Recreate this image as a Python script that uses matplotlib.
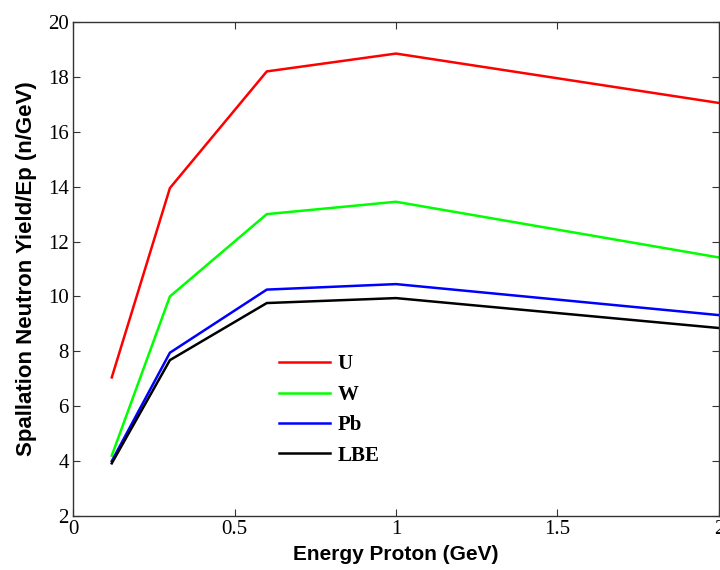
import matplotlib
matplotlib.use('Agg')
import matplotlib.pyplot as plt

# Data
energy = [0.12, 0.3, 0.6, 1.0, 2.0]
yield_u = [7.05, 13.95, 18.2, 18.85, 17.05]
yield_w = [4.2, 10.0, 13.0, 13.45, 11.42]
yield_pb = [4.0, 7.95, 10.25, 10.45, 9.32]
yield_lbe = [3.92, 7.68, 9.76, 9.94, 8.85]

series = [
    ('U', yield_u, '#ff0000'),
    ('W', yield_w, '#00ff00'),
    ('Pb', yield_pb, '#0000ff'),
    ('LBE', yield_lbe, '#000000'),
]

xticks = [0, 0.5, 1, 1.5, 2]
yticks = [2, 4, 6, 8, 10, 12, 14, 16, 18, 20]

fig = plt.figure(figsize=(7.2, 5.7), dpi=100)
ax = fig.add_axes([0.1014, 0.0947, 0.8972, 0.8667])

for label, vals, color in series:
    ax.plot(energy, vals, color=color, linewidth=1.8, label=label)

ax.set_xlim(0, 2)
ax.set_ylim(2, 20)
ax.set_xticks(xticks)
ax.set_xticklabels(['0', '0.5', '1', '1.5', '2'])
ax.set_yticks(yticks)

serif = ['Liberation Serif', 'DejaVu Serif']
for lab in ax.get_xticklabels() + ax.get_yticklabels():
    lab.set_family(serif)
    lab.set_fontsize(15)

ax.tick_params(direction='in', top=True, right=True, length=5, width=0.8,
               color='#333333', pad=3)
for spine in ax.spines.values():
    spine.set_linewidth(1.0)
    spine.set_color('#333333')

sans = ['Liberation Sans', 'DejaVu Sans']
ax.set_xlabel('Energy Proton (GeV)', fontsize=15, fontweight='bold',
              family=sans, labelpad=4)
ax.set_ylabel('Spallation Neutron Yield/Ep (n/GeV)', fontsize=16,
              fontweight='bold', family=sans, labelpad=8)

leg = ax.legend(loc='upper left', bbox_to_anchor=(0.29, 0.365), frameon=False,
                prop={'family': serif, 'size': 15, 'weight': 'bold'},
                handlelength=2.45, labelspacing=0.5, handletextpad=0.35)

fig.savefig('out.png', dpi=100)
